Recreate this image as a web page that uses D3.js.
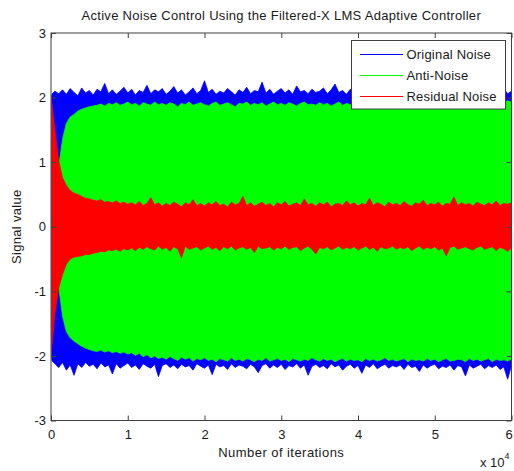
<!DOCTYPE html>
<html>
<head>
<meta charset="utf-8">
<script src="https://cdn.jsdelivr.net/npm/d3@7"></script>
<style>
  body { margin: 0; background: #fff; }
  svg { display: block; font-family: Arial, "Liberation Sans", sans-serif; }
</style>
</head>
<body>
<svg></svg>
<script>
const width = 514;
const height = 471;
const margin = { top: 33, right: 2.5, bottom: 50.5, left: 51 };

const step = 500;
const origUpper = [
  2.04, 2.10, 2.06, 2.12, 2.05, 2.14, 2.08, 2.03, 2.15, 2.07,
  2.11, 2.04, 2.13, 2.09, 2.22, 2.06, 2.12, 2.05, 2.10, 2.16,
  2.07, 2.13, 2.04, 2.11, 2.08, 2.19, 2.06, 2.12, 2.09, 2.14,
  2.05, 2.10, 2.17, 2.07, 2.12, 2.04, 2.09, 2.15, 2.06, 2.11,
  2.26, 2.08, 2.13, 2.05, 2.10, 2.07, 2.14, 2.09, 2.04, 2.12,
  2.08, 2.16, 2.06, 2.11, 2.09, 2.24, 2.07, 2.13, 2.05, 2.10,
  2.14, 2.07, 2.12, 2.05, 2.18, 2.09, 2.11, 2.06, 2.13, 2.08,
  2.10, 2.15, 2.06, 2.12, 2.21, 2.08, 2.11, 2.05, 2.13, 2.09,
  2.16, 2.07, 2.12, 2.04, 2.10, 2.14, 2.08, 2.19, 2.06, 2.11,
  2.09, 2.13, 2.05, 2.17, 2.08, 2.12, 2.06, 2.10, 2.23, 2.07,
  2.12, 2.08, 2.14, 2.05, 2.11, 2.09, 2.16, 2.07, 2.13, 2.10,
  2.06, 2.15, 2.08, 2.12, 2.20, 2.07, 2.11, 2.09, 2.14, 2.06, 2.10
];
const origLower = [
  -2.06, -2.12, -2.18, -2.10, -2.22, -2.14, -2.30, -2.12, -2.18, -2.10,
  -2.16, -2.13, -2.20, -2.11, -2.17, -2.14, -2.28, -2.12, -2.19, -2.15,
  -2.11, -2.18, -2.14, -2.21, -2.12, -2.16, -2.19, -2.13, -2.32, -2.15,
  -2.12, -2.18, -2.14, -2.20, -2.13, -2.17, -2.15, -2.22, -2.12, -2.16,
  -2.19, -2.14, -2.29, -2.13, -2.17, -2.15, -2.21, -2.12, -2.18, -2.14,
  -2.16, -2.20, -2.13, -2.17, -2.26, -2.15, -2.12, -2.19, -2.14, -2.18,
  -2.13, -2.21, -2.15, -2.17, -2.12, -2.19, -2.14, -2.30, -2.16, -2.13,
  -2.18, -2.15, -2.20, -2.12, -2.17, -2.14, -2.22, -2.16, -2.13, -2.19,
  -2.15, -2.27, -2.14, -2.18, -2.12, -2.20, -2.16, -2.13, -2.19, -2.15,
  -2.17, -2.14, -2.21, -2.13, -2.18, -2.16, -2.24, -2.14, -2.19, -2.15,
  -2.13, -2.20, -2.16, -2.18, -2.14, -2.22, -2.15, -2.17, -2.31, -2.14,
  -2.19, -2.16, -2.13, -2.20, -2.15, -2.18, -2.14, -2.21, -2.17, -2.36, -2.15
];
const antiUpper = [
  0.00, 0.45, 0.92, 1.35, 1.60, 1.70, 1.74, 1.79, 1.82, 1.84,
  1.86, 1.87, 1.88, 1.90, 1.87, 1.91, 1.89, 1.92, 1.88, 1.90,
  1.93, 1.89, 1.91, 1.87, 1.92, 1.90, 1.88, 1.93, 1.89, 1.91,
  1.88, 1.92, 1.90, 1.86, 1.91, 1.89, 1.93, 1.88, 1.90, 1.92,
  1.89, 1.87, 1.91, 1.93, 1.88, 1.90, 1.92, 1.89, 1.86, 1.91,
  1.90, 1.93, 1.88, 1.91, 1.89, 1.92, 1.87, 1.90, 1.93, 1.89,
  1.91, 1.88, 1.92, 1.90, 1.87, 1.91, 1.93, 1.89, 1.90, 1.88,
  1.92, 1.89, 1.91, 1.87, 1.90, 1.93, 1.88, 1.91, 1.89, 1.92,
  1.91, 1.89, 1.93, 1.95, 1.90, 1.92, 1.94, 1.91, 1.93, 1.90,
  1.92, 1.95, 1.93, 1.91, 1.96, 1.94, 1.92, 1.90, 1.95, 1.93,
  1.91, 1.94, 1.96, 1.92, 1.93, 1.90, 1.95, 1.94, 1.91, 1.93,
  1.96, 1.92, 1.94, 1.91, 1.95, 1.93, 1.90, 1.94, 1.92, 1.95, 1.93
];
const antiLower = [
  0.00, -0.45, -0.92, -1.38, -1.62, -1.72, -1.77, -1.81, -1.85, -1.88,
  -1.90, -1.92, -1.93, -1.91, -1.94, -1.92, -1.95, -1.93, -1.96, -1.94,
  -1.97, -1.95, -1.99, -1.96, -2.01, -1.98, -2.03, -2.00, -2.04, -2.02,
  -2.05, -2.01, -2.04, -2.07, -2.02, -2.05, -2.03, -2.08, -2.04, -2.06,
  -2.03, -2.07, -2.05, -2.09, -2.04, -2.06, -2.08, -2.03, -2.07, -2.05,
  -2.08, -2.04, -2.06, -2.09, -2.05, -2.07, -2.03, -2.08, -2.06, -2.04,
  -2.07, -2.05, -2.09, -2.04, -2.06, -2.08, -2.05, -2.07, -2.03, -2.06,
  -2.08, -2.04, -2.07, -2.05, -2.09, -2.06, -2.04, -2.08, -2.05, -2.07,
  -2.06, -2.09, -2.04, -2.07, -2.05, -2.08, -2.06, -2.03, -2.07, -2.05,
  -2.08, -2.06, -2.04, -2.09, -2.05, -2.07, -2.06, -2.08, -2.04, -2.07,
  -2.05, -2.09, -2.06, -2.04, -2.08, -2.07, -2.05, -2.06, -2.09, -2.04,
  -2.07, -2.05, -2.08, -2.06, -2.04, -2.09, -2.05, -2.07, -2.06, -2.08, -2.05
];
const resUpper = [
  2.04, 1.50, 1.02, 0.76, 0.64, 0.56, 0.52, 0.50, 0.47, 0.44,
  0.43, 0.41, 0.40, 0.42, 0.38, 0.39, 0.37, 0.40, 0.36, 0.38,
  0.35, 0.37, 0.34, 0.39, 0.33, 0.36, 0.45, 0.34, 0.37, 0.32,
  0.36, 0.33, 0.38, 0.35, 0.31, 0.37, 0.34, 0.42, 0.33, 0.36,
  0.32, 0.37, 0.34, 0.39, 0.33, 0.35, 0.31, 0.38, 0.34, 0.36,
  0.47, 0.33, 0.37, 0.32, 0.35, 0.38, 0.33, 0.36, 0.31, 0.37,
  0.34, 0.39, 0.32, 0.35, 0.37, 0.33, 0.43, 0.34, 0.36, 0.32,
  0.37, 0.34, 0.38, 0.31, 0.35, 0.36, 0.33, 0.40, 0.34, 0.37,
  0.32, 0.36, 0.34, 0.44, 0.33, 0.37, 0.35, 0.31, 0.38, 0.34,
  0.36, 0.33, 0.39, 0.34, 0.32, 0.37, 0.35, 0.41, 0.33, 0.36,
  0.34, 0.38, 0.32, 0.36, 0.35, 0.46, 0.33, 0.37, 0.34, 0.36,
  0.32, 0.38, 0.35, 0.33, 0.37, 0.34, 0.40, 0.33, 0.36, 0.35, 0.37
];
const resLower = [
  -2.00, -1.34, -0.95, -0.74, -0.58, -0.50, -0.47, -0.46, -0.45, -0.43,
  -0.43, -0.41, -0.40, -0.38, -0.39, -0.36, -0.37, -0.35, -0.38, -0.34,
  -0.36, -0.33, -0.37, -0.32, -0.35, -0.31, -0.34, -0.36, -0.30, -0.35,
  -0.32, -0.38, -0.31, -0.34, -0.48, -0.30, -0.35, -0.33, -0.31, -0.36,
  -0.33, -0.30, -0.35, -0.32, -0.37, -0.31, -0.34, -0.30, -0.36, -0.33,
  -0.31, -0.35, -0.32, -0.40, -0.30, -0.34, -0.33, -0.31, -0.36, -0.32,
  -0.34, -0.30, -0.35, -0.32, -0.31, -0.37, -0.33, -0.30, -0.35, -0.42,
  -0.32, -0.34, -0.31, -0.36, -0.33, -0.30, -0.35, -0.32, -0.34, -0.31,
  -0.36, -0.33, -0.30, -0.35, -0.32, -0.38, -0.31, -0.34, -0.33, -0.30,
  -0.35, -0.32, -0.34, -0.31, -0.37, -0.33, -0.30, -0.35, -0.32, -0.34,
  -0.31, -0.36, -0.33, -0.45, -0.32, -0.30, -0.35, -0.33, -0.31, -0.34,
  -0.36, -0.32, -0.30, -0.35, -0.33, -0.31, -0.37, -0.32, -0.34, -0.38, -0.33
];

const seriesNames = ['Original Noise', 'Anti-Noise', 'Residual Noise'];
const colors = ['#0000ff', '#00ff00', '#ff0000'];
const xTicks = [0, 10000, 20000, 30000, 40000, 50000, 60000];
const yTicks = [-3, -2, -1, 0, 1, 2, 3];

const textColor = '#1a1a1a';
const fontSize = '13px';
const spacing = '0.3px';

const svg = d3.select('svg')
  .attr('width', width)
  .attr('height', height);

const x = d3.scaleLinear()
  .domain([0, 60000])
  .range([margin.left, width - margin.right]);

const y = d3.scaleLinear()
  .domain([-3, 3])
  .range([height - margin.bottom, margin.top]);

const pLeft = margin.left, pRight = width - margin.right;
const pTop = margin.top, pBottom = height - margin.bottom;

svg.append('clipPath').attr('id', 'plot')
  .append('rect')
  .attr('x', pLeft + 0.5)
  .attr('y', pTop)
  .attr('width', pRight - pLeft - 0.5)
  .attr('height', pBottom - pTop);

const bands = [
  { upper: origUpper, lower: origLower },
  { upper: antiUpper, lower: antiLower },
  { upper: resUpper, lower: resLower }
];

const area = d3.area()
  .x(d => x(d.it))
  .y0(d => y(d.lo))
  .y1(d => y(d.hi));

const plot = svg.append('g').attr('clip-path', 'url(#plot)');

bands.forEach((b, k) => {
  const pts = b.upper.map((hi, i) => ({ it: i * step, hi, lo: b.lower[i] }));
  plot.append('path')
    .datum(pts)
    .attr('fill', colors[k])
    .attr('stroke', colors[k])
    .attr('stroke-width', 0.8)
    .attr('d', area);
});

// axes box + ticks (inward, on all four sides)
const axisColor = '#404040';
const tickLen = 5;

svg.append('rect')
  .attr('x', pLeft).attr('y', pTop)
  .attr('width', pRight - pLeft).attr('height', pBottom - pTop)
  .attr('fill', 'none').attr('stroke', axisColor).attr('stroke-width', 1);

const axisB = d3.axisBottom(x).tickValues(xTicks).tickSizeInner(-tickLen).tickSizeOuter(0)
  .tickFormat(d => d / 10000);
const axisT = d3.axisTop(x).tickValues(xTicks).tickSizeInner(-tickLen).tickSizeOuter(0).tickFormat('');
const axisL = d3.axisLeft(y).tickValues(yTicks).tickSizeInner(-tickLen).tickSizeOuter(0)
  .tickFormat(d => String(d));
const axisR = d3.axisRight(y).tickValues(yTicks).tickSizeInner(-tickLen).tickSizeOuter(0).tickFormat('');

const gB = svg.append('g').attr('transform', `translate(0,${pBottom})`).call(axisB);
const gT = svg.append('g').attr('transform', `translate(0,${pTop})`).call(axisT);
const gL = svg.append('g').attr('transform', `translate(${pLeft},0)`).call(axisL);
const gR = svg.append('g').attr('transform', `translate(${pRight},0)`).call(axisR);

[gB, gT, gL, gR].forEach(g => {
  g.select('.domain').remove();
  g.selectAll('line').attr('stroke', axisColor);
  g.selectAll('text')
    .attr('fill', textColor)
    .style('font-size', fontSize)
    .style('font-family', 'Arial, "Liberation Sans", sans-serif');
});
gB.selectAll('text').attr('y', 9);
// last label sits on the right edge of the figure; nudge it inside
gB.selectAll('text').filter(d => d === 60000).attr('dx', -3);
gL.selectAll('text').attr('x', -5);

// titles
svg.append('text')
  .attr('x', (pLeft + pRight) / 2).attr('y', 20)
  .attr('text-anchor', 'middle')
  .attr('fill', textColor)
  .style('font-size', fontSize)
  .style('letter-spacing', spacing)
  .text('Active Noise Control Using the Filtered-X LMS Adaptive Controller');

svg.append('text')
  .attr('x', (pLeft + pRight) / 2).attr('y', 457)
  .attr('text-anchor', 'middle')
  .attr('fill', textColor)
  .style('font-size', fontSize)
  .style('letter-spacing', '0.45px')
  .text('Number of iterations');

svg.append('text')
  .attr('transform', `translate(21,${(pTop + pBottom) / 2}) rotate(-90)`)
  .attr('text-anchor', 'middle')
  .attr('fill', textColor)
  .style('font-size', fontSize)
  .style('letter-spacing', spacing)
  .text('Signal value');

const expo = svg.append('text')
  .attr('x', 480).attr('y', 467)
  .attr('fill', textColor)
  .style('font-size', fontSize);
expo.append('tspan').text('x 10');
expo.append('tspan').attr('dy', -8).style('font-size', '9px').text('4');

// legend
const legend = svg.append('g');
legend.append('rect')
  .attr('x', 351.5).attr('y', 40.5)
  .attr('width', 154).attr('height', 68.5)
  .attr('fill', '#fff').attr('stroke', '#404040');

const rowY = [54, 75, 96];
seriesNames.forEach((name, i) => {
  legend.append('rect')
    .attr('x', 360).attr('y', rowY[i])
    .attr('width', 43).attr('height', 1)
    .attr('fill', colors[i]);
  legend.append('text')
    .attr('x', 406.5).attr('y', rowY[i] + 5)
    .attr('fill', textColor)
    .style('font-size', fontSize)
    .style('letter-spacing', '0.2px')
    .text(name);
});
</script>
</body>
</html>
